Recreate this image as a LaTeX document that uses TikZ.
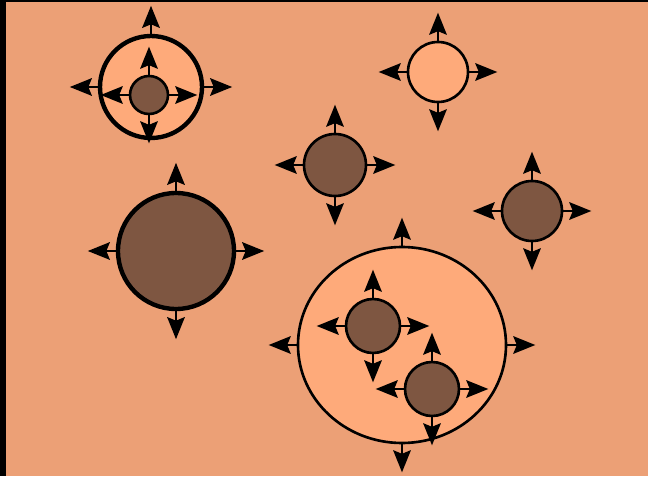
\documentclass[tikz,border=0pt]{standalone}
\usepackage{tikz}
\usetikzlibrary{arrows.meta, shapes.geometric}

\definecolor{groundcol}{RGB}{236,160,118}
\definecolor{shellcol}{RGB}{254,170,122}
\definecolor{corecol}{RGB}{126,86,65}

\begin{document}
\begin{tikzpicture}[
  core/.style={draw, circle, fill=corecol, line width=1.5pt, inner sep=0pt},
  shell/.style={draw, fill=shellcol, line width=1.5pt, inner sep=0pt},
  push/.style={-{Stealth[length=4.4mm, width=3.5mm, inset=0.7mm]}, line width=1.5pt}]
  % ground and frame strips
  \fill[groundcol] (0,0) rectangle (12.96,9.52);
  \fill[black] (0,0) rectangle (0.12,9.52);
  \fill[black] (0,9.48) rectangle (12.96,9.52);
  % shells
  \node[shell, circle, line width=2.5pt, minimum size=20.4mm] (ring) at (3.02,7.78) {};
  \node[shell, circle, minimum size=12mm] (lite) at (8.76,8.08) {};
  \node[shell, ellipse, minimum width=41.6mm, minimum height=39.2mm] (pool) at (8.04,2.62) {};
  % cores
  \node[core, minimum size=7.6mm] (ringcore) at (2.98,7.62) {};
  \node[core, minimum size=12.4mm] (mid) at (6.70,6.22) {};
  \node[core, line width=2.5pt, minimum size=23.2mm] (big) at (3.52,4.50) {};
  \node[core, minimum size=12mm] (east) at (10.64,5.30) {};
  \node[core, minimum size=10.8mm] (poolA) at (7.46,3.00) {};
  \node[core, minimum size=10.8mm] (poolB) at (8.64,1.74) {};
  % outward arrows
  \draw[push] (ring.north) -- ++(0,0.56);
  \draw[push] (ring.east) -- ++(0.56,0);
  \draw[push] (ring.west) -- ++(-0.56,0);
  \foreach \n in {ringcore, lite, mid, big, east, pool, poolA, poolB} {
    \draw[push] (\n.north) -- ++(0,0.56);
    \draw[push] (\n.south) -- ++(0,-0.56);
    \draw[push] (\n.east) -- ++(0.56,0);
    \draw[push] (\n.west) -- ++(-0.56,0);
  }
\end{tikzpicture}
\end{document}
